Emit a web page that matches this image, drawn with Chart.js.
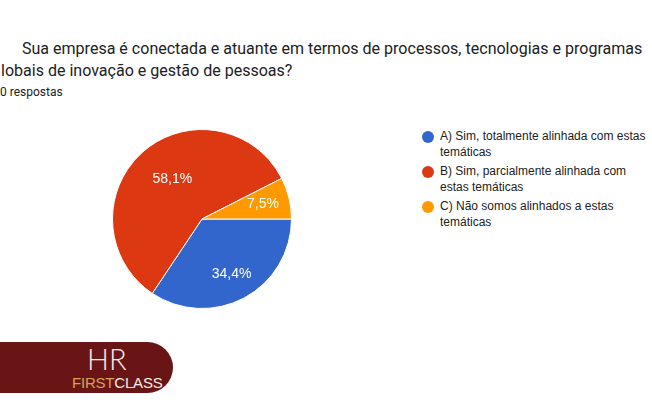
<!DOCTYPE html>
<html>
<head>
<meta charset="utf-8">
<script src="https://cdn.jsdelivr.net/npm/chart.js@4"></script>
<style>
  body { margin: 0; width: 652px; height: 408px; background: #fff; overflow: hidden; position: relative; font-family: Roboto, "Liberation Sans", sans-serif; }
  .title { position: absolute; color: #202124; font-size: 17px; white-space: nowrap; transform-origin: left top; transform: scaleX(0.943); }
  #t1 { left: 22px; top: 38px; }
  #t2 { left: 1px; top: 60px; }
  #count { position: absolute; left: 0px; top: 85px; font-size: 12px; color: #202124; }
  #chartBox { position: absolute; left: 112px; top: 129px; width: 180px; height: 180px; }
  #legend { position: absolute; left: 422px; top: 129px; width: 225px; font-family: "Liberation Sans", Arial, sans-serif; font-size: 12px; color: #222; }
  .item { position: relative; padding-left: 18px; line-height: 15.5px; margin-bottom: 4px; }
  .dot { position: absolute; left: 0; top: 2px; width: 12px; height: 12px; border-radius: 50%; }
  #logo { position: absolute; left: -30px; top: 342px; width: 203px; height: 51px; background: #6a1515; border-radius: 0 26px 26px 0; }
  #hr { position: absolute; left: 87px; top: 346px; height: 26px; line-height: 26px; color: #f6eee6; font-family: Lato, sans-serif; font-weight: 300; font-size: 29px; }
  #fc { position: absolute; left: 72px; top: 376px; height: 14px; line-height: 14px; font-family: "Liberation Sans Narrow", "Liberation Sans", sans-serif; font-size: 15px; letter-spacing: -0.2px; }
</style>
</head>
<body>
<div class="title" id="t1">Sua empresa é conectada e atuante em termos de processos, tecnologias e programas</div>
<div class="title" id="t2">lobais de inovação e gestão de pessoas?</div>
<div id="count">0 respostas</div>
<div id="chartBox"><canvas id="pie"></canvas></div>
<div id="legend"></div>
<div id="logo"></div>
<div id="hr">HR</div>
<div id="fc"><span style="color:#d7a25a">FIRST</span><span style="color:#f4ece4">CLASS</span></div>
<script>
const categories = [
  "A) Sim, totalmente alinhada com estas temáticas",
  "B) Sim, parcialmente alinhada com estas temáticas",
  "C) Não somos alinhados a estas temáticas"
];
const counts = [55, 93, 12];
const colors = ["#3366cc", "#dc3912", "#ff9900"];

// legend in html so long labels wrap like the original
const legendEl = document.getElementById("legend");
categories.forEach((c, i) => {
  const div = document.createElement("div");
  div.className = "item";
  div.innerHTML = `<span class="dot" style="background:${colors[i]}"></span>${c}`;
  legendEl.appendChild(div);
});

const total = counts.reduce((a, b) => a + b, 0);

const pctLabels = {
  id: "pctLabels",
  afterDatasetsDraw(chart) {
    const ctx = chart.ctx;
    const meta = chart.getDatasetMeta(0);
    ctx.save();
    ctx.fillStyle = "#fff";
    ctx.font = "14px 'Liberation Sans', Arial, sans-serif";
    ctx.textAlign = "center";
    ctx.textBaseline = "middle";
    meta.data.forEach((arc, i) => {
      const mid = (arc.startAngle + arc.endAngle) / 2;
      const r = arc.outerRadius * (i === 1 ? 0.6 : 0.7);
      const x = arc.x + Math.cos(mid) * r + (i === 1 ? 6 : 0);
      const y = arc.y + Math.sin(mid) * r;
      const pct = (counts[i] / total * 100).toFixed(1).replace(".", ",") + "%";
      ctx.fillText(pct, x, y);
    });
    ctx.restore();
  }
};

new Chart(document.getElementById("pie"), {
  type: "pie",
  data: {
    labels: categories,
    datasets: [{
      data: counts,
      backgroundColor: colors,
      borderColor: "#fff",
      borderWidth: 1
    }]
  },
  options: {
    responsive: true,
    maintainAspectRatio: false,
    animation: false,
    rotation: 90,
    plugins: {
      legend: { display: false },
      tooltip: { enabled: false }
    }
  },
  plugins: [pctLabels]
});
</script>
</body>
</html>
